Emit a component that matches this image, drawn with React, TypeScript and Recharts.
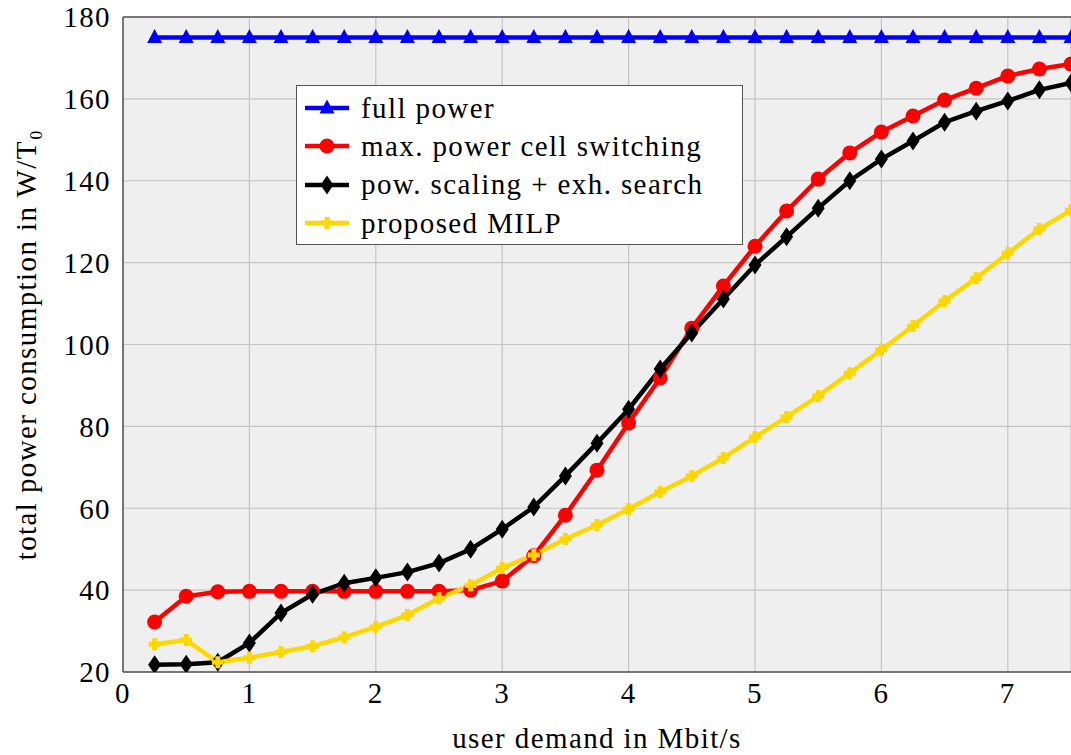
import React from "react";
import {
  LineChart,
  Line,
  XAxis,
  YAxis,
  CartesianGrid,
  Legend,
  ReferenceLine,
  Label,
} from "recharts";

const demand = [
  0.25, 0.5, 0.75, 1, 1.25, 1.5, 1.75, 2, 2.25, 2.5, 2.75, 3, 3.25, 3.5, 3.75,
  4, 4.25, 4.5, 4.75, 5, 5.25, 5.5, 5.75, 6, 6.25, 6.5, 6.75, 7, 7.25, 7.5,
];
const fullPower = [
  175, 175, 175, 175, 175, 175, 175, 175, 175, 175, 175, 175, 175, 175, 175,
  175, 175, 175, 175, 175, 175, 175, 175, 175, 175, 175, 175, 175, 175, 175,
];
const maxPowerSwitching = [
  32.2, 38.5, 39.6, 39.7, 39.7, 39.7, 39.7, 39.7, 39.7, 39.7, 40, 42.2, 48.4,
  58.3, 69.3, 80.8, 91.8, 104, 114.3, 124, 132.6, 140.4, 146.8, 151.9, 155.8,
  159.7, 162.6, 165.6, 167.3, 168.5,
];
const powScaling = [
  21.8, 21.9, 22.4, 27.1, 34.4, 39, 41.7, 43, 44.4, 46.6, 50, 54.9, 60.3, 67.9,
  75.9, 84.2, 94, 102.8, 111.1, 119.4, 126.3, 133.3, 140, 145.3, 149.7, 154.3,
  157, 159.5, 162.2, 163.9,
];
const proposedMilp = [
  26.8, 27.8, 22.4, 23.5, 24.9, 26.3, 28.5, 31, 33.9, 38, 41.2, 45.4, 48.6,
  52.5, 55.9, 59.8, 64, 67.9, 72.3, 77.4, 82.3, 87.4, 93, 98.7, 104.5, 110.6,
  116.2, 122.3, 128.2, 132.8,
];
const xTicks = [0, 1, 2, 3, 4, 5, 6, 7];
const yTicks = [20, 40, 60, 80, 100, 120, 140, 160, 180];

const data = demand.map((d, i) => ({
  d,
  full: fullPower[i],
  maxp: maxPowerSwitching[i],
  pow: powScaling[i],
  milp: proposedMilp[i],
}));

const FONT = "'Liberation Serif', serif";
const textStyle = { fill: "#000", fontFamily: FONT, fontSize: 29, letterSpacing: 1.4 };

const Triangle = (props: any) => {
  const { cx, cy, fill } = props;
  if (cx == null || cy == null) return null;
  return <path d={`M${cx},${cy - 8.5} L${cx + 7.5},${cy + 5.5} L${cx - 7.5},${cy + 5.5} Z`} fill={fill} />;
};
const Circle = (props: any) => {
  const { cx, cy, fill } = props;
  if (cx == null || cy == null) return null;
  return <circle cx={cx} cy={cy} r={7.5} fill={fill} />;
};
const Diamond = (props: any) => {
  const { cx, cy, fill } = props;
  if (cx == null || cy == null) return null;
  return <path d={`M${cx},${cy - 9.5} L${cx + 6.5},${cy} L${cx},${cy + 9.5} L${cx - 6.5},${cy} Z`} fill={fill} />;
};
const Plus = (props: any) => {
  const { cx, cy, fill } = props;
  if (cx == null || cy == null) return null;
  return (
    <path
      d={`M${cx - 2.5},${cy - 6} h5 v3.5 h3.5 v5 h-3.5 v3.5 h-5 v-3.5 h-3.5 v-5 h3.5 Z`}
      fill={fill}
    />
  );
};

const series = [
  { key: "full", name: "full power", color: "#0000ff", Dot: Triangle },
  { key: "maxp", name: "max. power cell switching", color: "#ff0000", Dot: Circle },
  { key: "pow", name: "pow. scaling + exh. search", color: "#000000", Dot: Diamond },
  { key: "milp", name: "proposed MILP", color: "#ffd700", Dot: Plus },
];

const LegendBox = () => (
  <div
    style={{
      border: "1.5px solid #555",
      background: "#fff",
      padding: "3px 8px 3px 6px",
      fontFamily: FONT,
      fontSize: 29,
      letterSpacing: 1.4,
      width: 447,
      height: 160,
      boxSizing: "border-box",
      color: "#000",
    }}
  >
    {series.map((s) => (
      <div key={s.key} style={{ display: "flex", alignItems: "center", height: 38.3, whiteSpace: "nowrap" }}>
        <svg width={50} height={30} style={{ marginRight: 8, flex: "none" }}>
          <line x1={2} y1={15} x2={46} y2={15} stroke={s.color} strokeWidth={4.5} />
          <s.Dot cx={24} cy={15} fill={s.color} />
        </svg>
        <span>{s.name}</span>
      </div>
    ))}
  </div>
);

export default function App() {
  return (
    <div style={{ width: 1071, height: 755, background: "#fff" }}>
      <style>{`body{margin:0}`}</style>
      <LineChart
        width={1071}
        height={755}
        data={data}
        margin={{ top: 17, right: 0, left: 0, bottom: 0 }}
      >
        <CartesianGrid stroke="#c4c4c4" strokeWidth={1.2} fill="#efefef" />
        <XAxis
          dataKey="d"
          type="number"
          domain={[0, 7.5]}
          ticks={xTicks}
          height={83}
          tickLine={false}
          axisLine={{ stroke: "#555", strokeWidth: 1.5 }}
          tick={textStyle}
          tickMargin={4}
          allowDataOverflow
        >
          <Label value="user demand in Mbit/s" position="insideBottom" offset={7} style={textStyle} />
        </XAxis>
        <YAxis
          type="number"
          domain={[20, 180]}
          ticks={yTicks}
          width={123}
          tickLine={false}
          axisLine={{ stroke: "#555", strokeWidth: 1.5 }}
          tick={textStyle}
          tickMargin={6}
          allowDataOverflow
        >
          <Label
            value="total power consumption in W/T₀"
            angle={-90}
            position="insideLeft"
            offset={26}
            style={{ ...textStyle, textAnchor: "middle" }}
          />
        </YAxis>
        <ReferenceLine y={180} stroke="#555" strokeWidth={1.5} />
        {series.map((s) => (
          <Line
            key={s.key}
            dataKey={s.key}
            name={s.name}
            stroke={s.color}
            strokeWidth={4.5}
            dot={<s.Dot fill={s.color} />}
            activeDot={false}
            isAnimationActive={false}
          />
        ))}
        <Legend
          layout="vertical"
          align="center"
          verticalAlign="middle"
          wrapperStyle={{ left: 296, top: 85, width: 447 }}
          content={() => <LegendBox />}
        />
      </LineChart>
    </div>
  );
}
